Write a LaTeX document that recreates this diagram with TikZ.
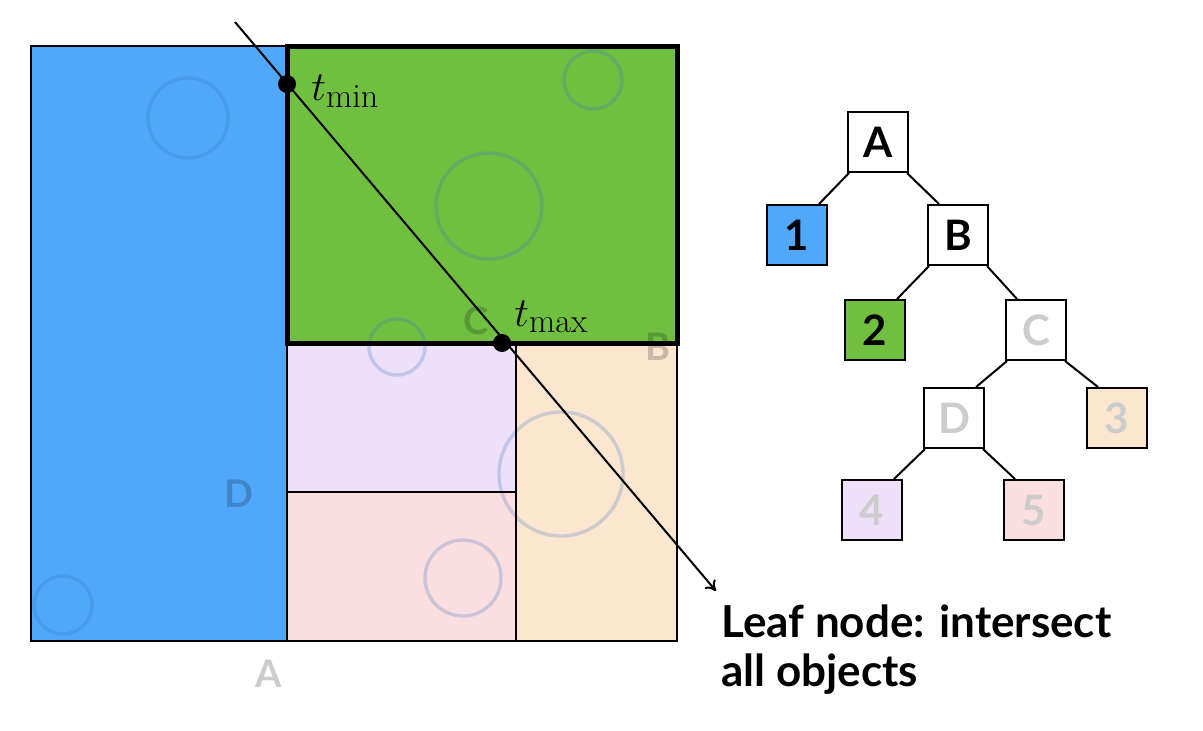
\documentclass[tikz,border=0pt]{standalone}
\usepackage{fontspec}
\setsansfont{Lato}
\usepackage{amsmath}
\usetikzlibrary{arrows.meta,calc}
\DeclareMathSizes{20}{20}{17}{12}

\definecolor{leafblue}{RGB}{81,167,249}
\definecolor{leafgreen}{RGB}{112,191,65}
\definecolor{leaflavender}{RGB}{238,224,248}
\definecolor{leafpink}{RGB}{251,222,224}
\definecolor{leafpeach}{RGB}{252,230,207}
\definecolor{ringblue}{RGB}{60,120,200}

\begin{document}
\begin{tikzpicture}[x=0.5pt,y=-0.5pt,
		treebox/.style={draw=black, line width=1pt, minimum size=30pt, inner sep=0pt,
			font=\sffamily\bfseries\fontsize{21}{24}\selectfont},
		faded/.style={text=black!20},
		ring/.style={draw=ringblue, draw opacity=0.25, line width=1.7pt},
		splitlabel/.style={font=\sffamily\bfseries\fontsize{19}{22}\selectfont, text=black, text opacity=0.2},
		tlabel/.style={anchor=base west, inner sep=0pt, font=\fontsize{20}{24}\selectfont},
		wall/.style={line width=1pt},
		edge/.style={line width=1pt}]
	\useasboundingbox (0,0) rectangle (1203,730);
	% Leaf regions
	\fill[leafblue] (31,46) rectangle (287,641);
	\fill[leafgreen] (287,46) rectangle (677,343);
	\fill[leaflavender] (287,343) rectangle (516,492);
	\fill[leafpink] (287,492) rectangle (516,641);
	\fill[leafpeach] (516,343) rectangle (677,641);
	% Objects
	\draw[ring] (188,118) circle (20pt);
	\draw[ring] (63,605) circle (14.5pt);
	\draw[ring] (593,80) circle (14.5pt);
	\draw[ring] (489,206) circle (26.5pt);
	\draw[ring] (397,347) circle (14pt);
	\draw[ring] (561,474) circle (31pt);
	\draw[ring] (463,578) circle (19pt);
	% Split planes
	\draw[wall] (31,46) rectangle (677,641);
	\draw[wall] (287,46) -- (287,641);
	\draw[wall] (287,343) -- (677,343);
	\draw[wall] (516,343) -- (516,641);
	\draw[wall] (287,492) -- (516,492);
	% Current leaf
	\draw[line width=2.5pt] (287,46) rectangle (677,343);
	% Split labels
	\node[splitlabel] (splitA) at (269,674) {A};
	\node[splitlabel] (splitB) at (658,347) {B};
	\node[splitlabel] (splitC) at (476,321) {C};
	\node[splitlabel] (splitD) at (239,494) {D};
	% Ray
	\coordinate (raystart) at (235,22);
	\coordinate (rayend) at (716,591);
	\coordinate (tmin) at (287,84);
	\coordinate (tmax) at (502,343);
	\draw[line width=1pt, -{To[length=5pt,width=7pt]}] (raystart) -- (rayend);
	\fill (tmin) circle (4.5pt);
	\fill (tmax) circle (4.5pt);
	\node[tlabel] (tminlabel) at ($(tmin)+(24,16)$) {$t_{\min}$};
	\node[tlabel] (tmaxlabel) at ($(tmax)+(12,-17)$) {$t_{\max}$};
	% Caption
	\node[anchor=north west, align=left, inner sep=0pt, font=\sffamily\bfseries\fontsize{22}{24.5}\selectfont] (leafnote) at (721,604) {Leaf node: intersect\\all objects};
	% Tree
	\node[treebox] (A) at (878,142) {A};
	\node[treebox, fill=leafblue] (n1) at (797,235) {1};
	\node[treebox] (B) at (958,235) {B};
	\node[treebox, fill=leafgreen] (n2) at (875,330) {2};
	\node[treebox, faded] (C) at (1036,330) {C};
	\node[treebox, faded] (D) at (954,418) {D};
	\node[treebox, faded, fill=leafpeach] (n3) at (1117,418) {3};
	\node[treebox, faded, fill=leaflavender] (n4) at (872,510) {4};
	\node[treebox, faded, fill=leafpink] (n5) at (1034,510) {5};
	% Tree edges
	\draw[edge] ([xshift=1pt]A.south west) -- ([xshift=-4.5pt]n1.north east);
	\draw[edge] ([xshift=-1pt]A.south east) -- ([xshift=6pt]B.north west);
	\draw[edge] ([xshift=1pt]B.south west) -- ([xshift=-4.5pt]n2.north east);
	\draw[edge] ([xshift=-1pt]B.south east) -- ([xshift=6pt]C.north west);
	\draw[edge] ([xshift=1pt]C.south west) -- ([xshift=-4.5pt]D.north east);
	\draw[edge] ([xshift=-1pt]C.south east) -- ([xshift=6pt]n3.north west);
	\draw[edge] ([xshift=1pt]D.south west) -- ([xshift=-4.5pt]n4.north east);
	\draw[edge] ([xshift=-1pt]D.south east) -- ([xshift=6pt]n5.north west);
\end{tikzpicture}
\end{document}
